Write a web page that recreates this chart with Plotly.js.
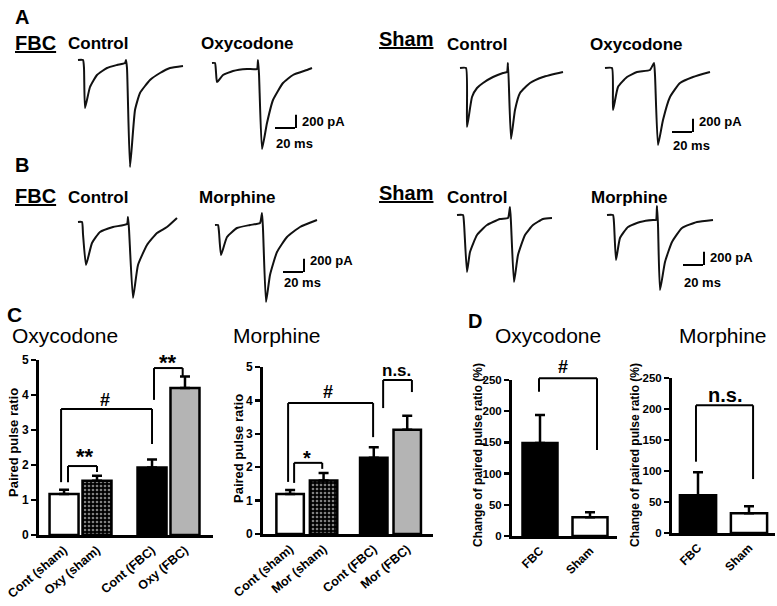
<!DOCTYPE html>
<html><head><meta charset="utf-8">
<script src="https://cdn.plot.ly/plotly-3.0.1.min.js"></script>
<style>html,body{margin:0;padding:0;background:#fff}#chart{width:777px;height:606px}</style>
</head><body><div id="chart"></div>
<script>
// ---------------- DATA ----------------
// Panel A/B example current traces: time (ms from trace start), current (pA, inward negative)
const aFbcCtrlT = [0,5,6,7,12,19,29,39,47,48,49,52,57,62,72,82,92,105];
const aFbcCtrlI = [45,45,-75,-675,-360,-180,-75,-30,0,45,-75,-1560,-705,-450,-255,-150,-75,-45];
const aFbcOxyT  = [0,3,4,5,11,21,35,45,46,47,50,55,61,71,81,95,100];
const aFbcOxyI  = [90,90,-45,-195,-90,-30,0,0,135,-75,-1200,-810,-465,-210,-90,-15,15];
const aShamCtrlT = [0,6,7,12,17,23,33,43,47,48,51,55,60,70,83,103];
const aShamCtrlI = [60,60,-825,-375,-240,-165,-75,-15,0,135,-1005,-570,-315,-165,-75,0];
const aShamOxyT  = [0,7,8,13,22,32,45,49,50,53,58,65,75,88,105];
const aShamOxyI  = [30,30,-600,-255,-105,-30,0,105,-75,-1125,-750,-405,-195,-105,-30];
const bFbcCtrlT = [0,4,5,8,14,22,35,49,50,51,55,60,69,79,89,99];
const bFbcCtrlI = [30,30,-150,-615,-285,-120,-45,0,105,-75,-1110,-615,-315,-135,-45,90];
const bFbcMorT  = [0,3,4,6,12,22,35,45,47,48,51,55,62,72,85,102];
const bFbcMorI  = [-15,-15,-120,-465,-195,-60,-15,15,165,-75,-1170,-765,-420,-195,-45,60];
const bShamCtrlT = [0,6,7,10,13,20,30,43,51,53,54,57,61,68,76,86,95];
const bShamCtrlI = [45,45,-75,-810,-510,-255,-105,-15,0,165,-75,-960,-555,-255,-105,-15,0];
const bShamMorT  = [0,6,7,9,13,21,33,46,49,50,51,53,58,65,75,90,106];
const bShamMorI  = [75,75,-45,-600,-270,-105,-30,0,0,210,-75,-1050,-630,-330,-120,-30,0];
const SCALE_MS = 20, SCALE_PA = 200;

// Panel C: paired pulse ratio
const cOxyCats = ['Cont (sham)','Oxy (sham)','Cont (FBC)','Oxy (FBC)'];
const cOxyMean = [1.17, 1.55, 1.93, 4.2];
const cOxySem  = [0.12, 0.14, 0.23, 0.33];
const cMorCats = ['Cont (sham)','Mor (sham)','Cont (FBC)','Mor (FBC)'];
const cMorMean = [1.2, 1.6, 2.28, 3.12];
const cMorSem  = [0.12, 0.23, 0.32, 0.42];
// Panel D: change of paired pulse ratio (%)
const dCats = ['FBC','Sham'];
const dOxyMean = [149, 30];
const dOxySem  = [45, 8];
const dMorMean = [61, 32];
const dMorSem  = [37, 11];

// ---------------- LAYOUT HELPERS ----------------
const FONT = 'Liberation Sans, Arial, Helvetica, sans-serif';
const W = 777, H = 606;
const fx = p => p / W;
const fy = p => 1 - p / H;

const data = [];
const layout = {
  width: W, height: H, autosize: false,
  margin: {l:0, r:0, t:0, b:0},
  paper_bgcolor: '#fff', plot_bgcolor: 'rgba(0,0,0,0)',
  showlegend: false, shapes: [], annotations: [],
  font: {family: FONT, color: '#000'}
};

function txt(x, y, text, size, bold, extra) {
  return Object.assign({xref:'paper', yref:'paper', x: fx(x), y: fy(y), text: text, showarrow: false,
    xanchor: 'center', yanchor: 'middle',
    font: {family: FONT, size: size, color: '#000', weight: bold ? 'bold' : 'normal'}}, extra || {});
}

// ---------------- TRACES (A, B) ----------------
const traceSpecs = [
  {t: aFbcCtrlT, i: aFbcCtrlI, ox: 78, oy: 63},
  {t: aFbcOxyT, i: aFbcOxyI, ox: 212, oy: 69, sb: {x0: 63, y0: -885, ly: -780, my: -1110}},
  {t: aShamCtrlT, i: aShamCtrlI, ox: 460, oy: 72},
  {t: aShamOxyT, i: aShamOxyI, ox: 605, oy: 70, sb: {x0: 67, y0: -930, ly: -765, my: -1125}},
  {t: bFbcCtrlT, i: bFbcCtrlI, ox: 78, oy: 224},
  {t: bFbcMorT, i: bFbcMorI, ox: 215, oy: 224, sb: {x0: 68, y0: -720, ly: -540, my: -870}},
  {t: bShamCtrlT, i: bShamCtrlI, ox: 457, oy: 218},
  {t: bShamMorT, i: bShamMorI, ox: 607, oy: 220, sb: {x0: 76, y0: -675, ly: -555, my: -930}}
];
traceSpecs.forEach((s, k) => {
  const n = k + 1, xa = 'x' + n, ya = 'y' + n;
  data.push({type:'scatter', mode:'lines', x: s.t, y: s.i, xaxis: xa, yaxis: ya,
    line: {color:'#111', width: 2, shape: 'spline', smoothing: 0.45}, hoverinfo: 'skip'});
  layout['xaxis' + n] = {domain: [fx(s.ox - 10), fx(s.ox + 120)], range: [-10, 120], anchor: ya, visible: false, fixedrange: true};
  layout['yaxis' + n] = {domain: [fy(s.oy + 110), fy(s.oy - 20)], range: [-1650, 300], anchor: xa, visible: false, fixedrange: true};
  if (s.sb) {
    const b = s.sb;
    layout.shapes.push({type:'line', xref: xa, yref: ya, x0: b.x0, x1: b.x0 + SCALE_MS, y0: b.y0, y1: b.y0, line:{color:'#000', width:2}});
    layout.shapes.push({type:'line', xref: xa, yref: ya, x0: b.x0 + SCALE_MS + 1, x1: b.x0 + SCALE_MS + 1, y0: b.y0, y1: b.y0 + SCALE_PA, line:{color:'#000', width:2}});
    layout.annotations.push({xref: xa, yref: ya, x: b.x0 + 25, y: b.ly, text: SCALE_PA + ' pA', showarrow: false,
      xanchor: 'left', yanchor: 'middle', font: {family: FONT, size: 13, color: '#000', weight: 'bold'}});
    layout.annotations.push({xref: xa, yref: ya, x: b.x0 - 1, y: b.my, text: SCALE_MS + ' ms', showarrow: false,
      xanchor: 'left', yanchor: 'middle', font: {family: FONT, size: 13, color: '#000', weight: 'bold'}});
  }
});

// ---------------- BAR CHARTS (C, D) ----------------
const C_OXY_GAP = 0.67, C_MOR_GAP = 0.5;
const cOxyPos = cOxyCats.map((c, i) => i + (i >= 2 ? C_OXY_GAP : 0));
const cMorPos = cMorCats.map((c, i) => i + (i >= 2 ? C_MOR_GAP : 0));
const dPos = dCats.map((c, i) => i);

const cColors = ['#ffffff', '#000000', '#000000', '#b4b4b4'];
const cPattern = ['', '.', '', ''];
const dColors = ['#000000', '#ffffff'];

function barTrace(pos, mean, sem, colors, shapes, xa, ya, width) {
  return {type:'bar', x: pos, y: mean, xaxis: xa, yaxis: ya, width: width,
    marker: {color: colors, line: {color:'#000', width: 2.5},
      pattern: {shape: shapes, fgcolor: '#ffffff', size: 4, solidity: 0.35, fillmode: 'overlay'}},
    error_y: {type:'data', symmetric: false, array: sem, arrayminus: sem.map(() => 0),
      color: '#000', thickness: 2.5, width: 5},
    hoverinfo: 'skip'};
}
data.push(barTrace(cOxyPos, cOxyMean, cOxySem, cColors, cPattern, 'x9', 'y9', 0.88));
data.push(barTrace(cMorPos, cMorMean, cMorSem, cColors, cPattern, 'x10', 'y10', 0.82));
data.push(barTrace(dPos, dOxyMean, dOxySem, dColors, ['', ''], 'x11', 'y11', 0.7));
data.push(barTrace(dPos, dMorMean, dMorSem, dColors, ['', ''], 'x12', 'y12', 0.71));

function xAx(dom, range, anchor, vals, text, angle, size) {
  return {domain: [fx(dom[0]), fx(dom[1])], range: range, anchor: anchor, showline: true, linewidth: 3, linecolor: '#000',
    tickvals: vals, ticktext: text, tickangle: angle, ticks: '', showgrid: false, zeroline: false, fixedrange: true,
    tickfont: {family: FONT, size: size, color: '#000', weight: 'bold'}};
}
function yAx(dom, range, anchor, dtick, size) {
  return {domain: [fy(dom[1]), fy(dom[0])], range: range, anchor: anchor, showline: true, linewidth: 3, linecolor: '#000',
    ticks: 'outside', ticklen: 5, tickwidth: 2.5, tickcolor: '#000', tick0: 0, dtick: dtick,
    showgrid: false, zeroline: false, fixedrange: true,
    tickfont: {family: FONT, size: size, color: '#000', weight: 'bold'}};
}
layout.xaxis9  = xAx([39, 213], [-0.76, 4.52], 'y9', cOxyPos, cOxyCats, -40, 12.5);
layout.yaxis9  = yAx([360, 535], [0, 5], 'x9', 1, 12);
layout.xaxis10 = xAx([263, 433], [-0.81, 4.27], 'y10', cMorPos, cMorCats, -40, 12.5);
layout.yaxis10 = yAx([367, 534], [0, 5], 'x10', 1, 12);
layout.xaxis11 = xAx([512, 617], [-0.56, 1.54], 'y11', dPos, dCats, -45, 12);
layout.yaxis11 = yAx([380, 536], [0, 250], 'x11', 50, 11.5);
layout.xaxis12 = xAx([672, 775], [-0.51, 1.51], 'y12', dPos, dCats, -45, 12);
layout.yaxis12 = yAx([378, 533], [0, 250], 'x12', 50, 11.5);

// significance brackets (x in bar-axis units, y in value units)
function bracket(xa, ya, yMax, xL, xR, yTop, yL, yR) {
  const yr = ya + ' domain', st = {color:'#000', width: 2};
  layout.shapes.push({type:'line', xref: xa, yref: yr, x0: xL, x1: xL, y0: yL / yMax, y1: yTop / yMax, line: st});
  layout.shapes.push({type:'line', xref: xa, yref: yr, x0: xL, x1: xR, y0: yTop / yMax, y1: yTop / yMax, line: st});
  layout.shapes.push({type:'line', xref: xa, yref: yr, x0: xR, x1: xR, y0: yR / yMax, y1: yTop / yMax, line: st});
}
function mark(xa, ya, yMax, x, y, text, size, shift) {
  layout.annotations.push({xref: xa, yref: ya + ' domain', x: x, y: y / yMax, text: text, showarrow: false,
    xanchor: 'center', yanchor: 'middle', yshift: shift || 0,
    font: {family: FONT, size: size, color: '#000', weight: 'bold'}});
}
bracket('x9', 'y9', 5, 0.12, 1.0, 1.97, 1.51, 1.8);
bracket('x9', 'y9', 5, -0.09, 2.67, 3.6, 1.51, 2.6);
bracket('x9', 'y9', 5, 2.73, 3.6, 4.77, 3.86, 4.54);
mark('x9', 'y9', 5, 0.64, 2.43, '**', 22, -7);
mark('x9', 'y9', 5, 1.24, 3.86, '#', 18, 0);
mark('x9', 'y9', 5, 3.15, 5.14, '**', 22, -7);

bracket('x10', 'y10', 5, 0.12, 0.96, 2.13, 1.53, 1.95);
bracket('x10', 'y10', 5, -0.06, 2.48, 3.92, 1.56, 2.9);
bracket('x10', 'y10', 5, 2.78, 3.64, 4.61, 3.77, 4.25);
mark('x10', 'y10', 5, 0.5, 2.46, '*', 20, -6);
mark('x10', 'y10', 5, 1.13, 4.25, '#', 18, 0);
mark('x10', 'y10', 5, 3.19, 4.91, 'n.s.', 17, 0);

bracket('x11', 'y11', 250, -0.02, 1.14, 253, 231, 138);
mark('x11', 'y11', 250, 0.46, 271, '#', 18, 0);
bracket('x12', 'y12', 250, -0.04, 1.08, 206, 115, 87);
mark('x12', 'y12', 250, 0.53, 222, 'n.s.', 20, 0);

// ---------------- TEXT ----------------
const A = layout.annotations;
A.push(txt(22, 17, 'A', 20, true));
A.push(txt(22, 165, 'B', 20, true));
A.push(txt(14, 314, 'C', 21, true));
A.push(txt(475, 321, 'D', 20, true));
A.push(txt(35, 43, '<u>FBC</u>', 20, true));
A.push(txt(406, 39, '<u>Sham</u>', 20, true));
A.push(txt(35, 196, '<u>FBC</u>', 20, true));
A.push(txt(406, 193, '<u>Sham</u>', 20, true));
A.push(txt(98, 44, 'Control', 17, true));
A.push(txt(247, 44, 'Oxycodone', 17, true));
A.push(txt(477, 45, 'Control', 17, true));
A.push(txt(636, 45, 'Oxycodone', 17, true));
A.push(txt(98, 197, 'Control', 17, true));
A.push(txt(238, 197, 'Morphine', 17, true));
A.push(txt(477, 197, 'Control', 17, true));
A.push(txt(629, 197, 'Morphine', 17, true));
A.push(txt(65, 335, 'Oxycodone', 21, false));
A.push(txt(277, 335, 'Morphine', 21, false));
A.push(txt(548, 335, 'Oxycodone', 21, false));
A.push(txt(723, 335, 'Morphine', 21, false));
A.push(txt(13, 443, 'Paired pulse ratio', 13, true, {textangle: -90}));
A.push(txt(238, 448, 'Paired pulse ratio', 13, true, {textangle: -90}));
A.push(txt(478, 455, 'Change of paired pulse ratio (%)', 12, true, {textangle: -90}));
A.push(txt(635, 455, 'Change of paired pulse ratio (%)', 12, true, {textangle: -90}));

Plotly.newPlot('chart', data, layout, {displayModeBar: false, staticPlot: true});
</script>
</body></html>
